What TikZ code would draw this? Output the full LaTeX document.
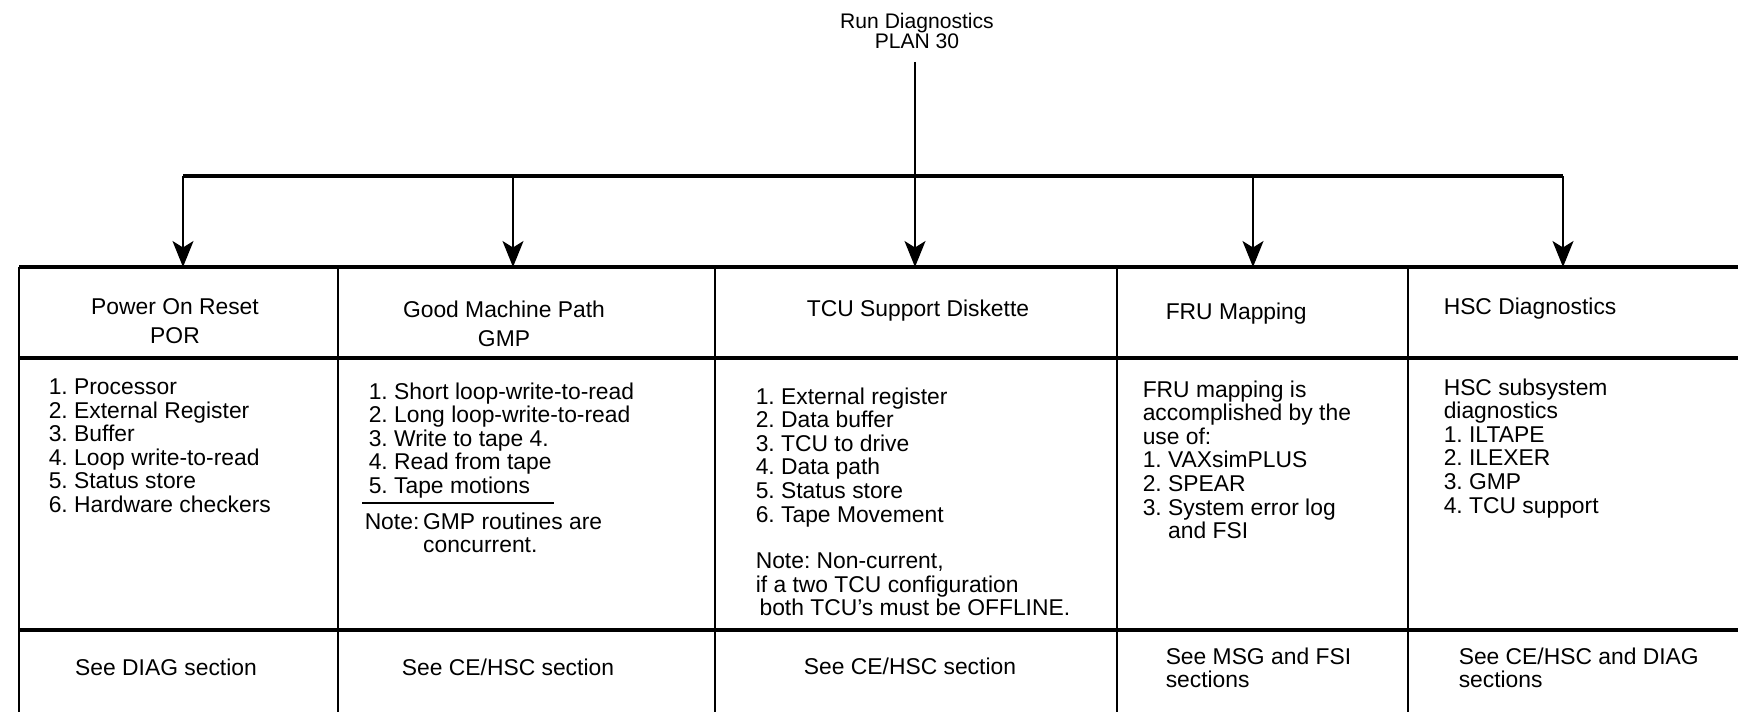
\documentclass[tikz,border=0pt]{standalone}
\usepackage{fontspec}
\setmainfont{Liberation Sans}
\usetikzlibrary{arrows.meta}
\frenchspacing

\begin{document}
\begin{tikzpicture}[x=0.2mm, y=-0.2mm, >={Stealth[length=5.2mm, width=4.2mm, inset=1.3mm]},
    line width=0.3mm,
    every node/.style={inner sep=0pt, font=\fontsize{13}{13.4}\selectfont},
    rule/.style={line width=0.75mm},
    lst/.style={anchor=north west, align=left},
    hdr/.style={anchor=north, align=center, font=\fontsize{13}{16.5}\selectfont}]
				% 1. 画布
				\useasboundingbox (0,0) rectangle (1738,712);
				
				% 2. 表格线
				\draw[rule] (19,267) -- (1738,267);
				\draw[rule] (19,358) -- (1738,358);
				\draw[rule] (19,630) -- (1738,630);
				\foreach \x in {19,338,715,1117,1408}
					\draw (\x,267) -- (\x,712);
				
				% 3. 顶部标题与箭头
				\node[align=center, anchor=north, font=\fontsize{12}{11.9}\selectfont] (plan) at (917,12) {Run Diagnostics\\PLAN 30};
				\foreach \i/\x in {1/183, 2/513, 3/915, 4/1253, 5/1563} {
					\coordinate (j\i) at (\x,176);
					\coordinate (t\i) at (\x,267);
					\draw[->] (j\i) -- (t\i);
				}
				\draw[rule] (j1) -- (j5);
				\draw[shorten <=2.4mm] (plan.south -| j3) -- (j3);
				
				% 4. 表头
				\node[hdr] (por) at (175,298) {Power On Reset\\POR};
				\node[hdr] (gmp) at (504,300) {Good Machine Path\\GMP};
				\node[hdr] (tcu) at (918,299) {TCU Support Diskette};
				\node[lst] (fru) at (1165,302) {FRU Mapping};
				\node[lst] (hsc) at (1443,297) {HSC Diagnostics};
				
				% 5. 内容
				\node[lst] (porlist) at (48,378) {1. Processor\\2. External Register\\3. Buffer\\4. Loop write-to-read\\5. Status store\\6. Hardware checkers};
				\node[lst] (gmplist) at (368,382) {1. Short loop-write-to-read\\2. Long loop-write-to-read\\3. Write to tape 4.\\4. Read from tape\\5. Tape motions};
				\draw (362,503) -- (554,503);
				\node[lst] (gmpnote) at (364,512) {Note:\,GMP routines are\\\phantom{Note:\,}concurrent.};
				\node[lst] (tculist) at (755,387) {1. External register\\2. Data buffer\\3. TCU to drive\\4. Data path\\5. Status store\\6. Tape Movement};
				\node[lst] (tcunote) at (755,552) {Note: Non-current,\\if a two TCU configuration\\\,both TCU’s must be OFFLINE.};
				\node[lst] (frulist) at (1142,380) {FRU mapping is\\accomplished by the\\use of:\\1. VAXsimPLUS\\2. SPEAR\\3. System error log\\\phantom{3. }and FSI};
				\node[lst] (hsclist) at (1443,378) {HSC subsystem\\diagnostics\\1. ILTAPE\\2. ILEXER\\3. GMP\\4. TCU support};
				
				% 6. 参考章节
				\node[hdr] (porsee) at (166,658) {See DIAG section};
				\node[hdr] (gmpsee) at (508,658) {See CE/HSC section};
				\node[hdr] (tcusee) at (910,657) {See CE/HSC section};
				\node[lst] (frusee) at (1165,647) {See MSG and FSI\\sections};
				\node[lst] (hscsee) at (1458,647) {See CE/HSC and DIAG\\sections};
			\end{tikzpicture}
\end{document}
